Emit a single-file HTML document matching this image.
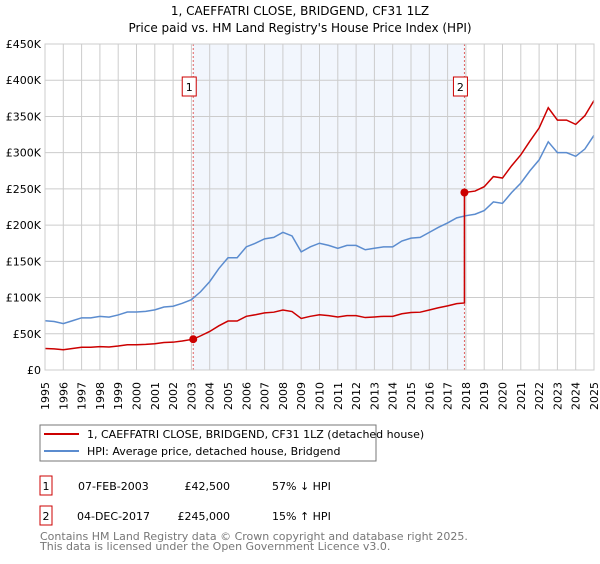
<!DOCTYPE html>
<html><head><meta charset="utf-8"><style>
body{margin:0;background:#fff;font-family:"DejaVu Sans","Liberation Sans",sans-serif;}
svg text{font-family:"DejaVu Sans","Liberation Sans",sans-serif;}
</style></head><body>
<svg id="c" width="600" height="560" xmlns="http://www.w3.org/2000/svg">
<text x="300" y="15" text-anchor="middle" font-size="12" fill="#000">1, CAEFFATRI CLOSE, BRIDGEND, CF31 1LZ</text>
<text x="300" y="32" text-anchor="middle" font-size="12" fill="#000">Price paid vs. HM Land Registry's House Price Index (HPI)</text>
<g id="plot"></g>
<rect x="40" y="425" width="336" height="36" fill="#fff" stroke="#777"/>
<line x1="44" y1="434" x2="79" y2="434" stroke="#cc0000" stroke-width="2"/>
<text x="87" y="438" font-size="11">1, CAEFFATRI CLOSE, BRIDGEND, CF31 1LZ (detached house)</text>
<line x1="44" y1="451" x2="79" y2="451" stroke="#5b8ccf" stroke-width="2"/>
<text x="87" y="455" font-size="11">HPI: Average price, detached house, Bridgend</text>
<rect x="40" y="476" width="12" height="19" fill="#fff" stroke="#cc0000"/>
<text x="46" y="490" font-size="11" text-anchor="middle">1</text>
<text x="78" y="490" font-size="11">07-FEB-2003</text>
<text x="230" y="490" font-size="11" text-anchor="end">£42,500</text>
<text x="272" y="490" font-size="11">57% ↓ HPI</text>
<rect x="40" y="506" width="12" height="19" fill="#fff" stroke="#cc0000"/>
<text x="46" y="520" font-size="11" text-anchor="middle">2</text>
<text x="77" y="520" font-size="11">04-DEC-2017</text>
<text x="230" y="520" font-size="11" text-anchor="end">£245,000</text>
<text x="272" y="520" font-size="11">15% ↑ HPI</text>
<text x="40" y="540" font-size="11" fill="#777">Contains HM Land Registry data © Crown copyright and database right 2025.</text>
<text x="40" y="550" font-size="11" fill="#777">This data is licensed under the Open Government Licence v3.0.</text>
</svg>
<script>
const years=[1995,1995.5,1996,1996.5,1997,1997.5,1998,1998.5,1999,1999.5,2000,2000.5,2001,2001.5,2002,2002.5,2003,2003.5,2004,2004.5,2005,2005.5,2006,2006.5,2007,2007.5,2008,2008.5,2009,2009.5,2010,2010.5,2011,2011.5,2012,2012.5,2013,2013.5,2014,2014.5,2015,2015.5,2016,2016.5,2017,2017.5,2018,2018.5,2019,2019.5,2020,2020.5,2021,2021.5,2022,2022.5,2023,2023.5,2024,2024.5,2025];
const hpiValues=[68,67,64,68,72,72,74,73,76,80,80,81,83,87,88,92,97,108,122,140,155,155,170,175,181,183,190,185,163,170,175,172,168,172,172,166,168,170,170,178,182,183,190,197,203,210,213,215,220,232,230,245,258,275,290,315,300,300,295,305,324];
const priceYears=[1995,1995.5,1996,1996.5,1997,1997.5,1998,1998.5,1999,1999.5,2000,2000.5,2001,2001.5,2002,2002.5,2003.1,2003.5,2004,2004.5,2005,2005.5,2006,2006.5,2007,2007.5,2008,2008.5,2009,2009.5,2010,2010.5,2011,2011.5,2012,2012.5,2013,2013.5,2014,2014.5,2015,2015.5,2016,2016.5,2017,2017.5,2017.92,2017.92,2018.5,2019,2019.5,2020,2020.5,2021,2021.5,2022,2022.5,2023,2023.5,2024,2024.5,2025];
const priceValues=[29.6,29.2,28,29.6,31.4,31.4,32.3,31.8,33.1,34.9,34.9,35.3,36.2,37.9,38.4,40.1,42.5,47.1,53.2,61,67.6,67.6,74.1,76.3,78.9,79.8,82.8,80.7,71.1,74.1,76.3,75,73.2,75,75,72.4,73.2,74.1,74.1,77.6,79.4,79.8,82.8,85.9,88.5,91.6,92.5,245,247,253,267,265,282,297,316,334,362,345,345,339,351,372];
const sales=[{n:"1",x:2003.1,v:42.5},{n:"2",x:2017.92,v:245}];
const yTicks=[0,50,100,150,200,250,300,350,400,450];
const yLabels=["£0","£50K","£100K","£150K","£200K","£250K","£300K","£350K","£400K","£450K"];
const xTicks=[1995,1996,1997,1998,1999,2000,2001,2002,2003,2004,2005,2006,2007,2008,2009,2010,2011,2012,2013,2014,2015,2016,2017,2018,2019,2020,2021,2022,2023,2024,2025];

const L=45,R=594,T=44,B=370;
const X=y=>L+(y-1995)/30*(R-L);
const Y=v=>B-v/450*(B-T);
const g=document.getElementById('plot');const NS='http://www.w3.org/2000/svg';
function mk(t,a,p){const e=document.createElementNS(NS,t);for(const k in a)e.setAttribute(k,a[k]);(p||g).appendChild(e);return e;}
const sh=mk('rect',{x:X(sales[0].x),y:T,width:X(sales[1].x)-X(sales[0].x),height:B-T,fill:'#f2f6fd'});


yTicks.forEach((v,i)=>{
 const l=mk('line',{x1:L,x2:R,y1:Y(v),y2:Y(v),stroke:'#ccc'});
 
 
 const t=mk('text',{x:L-4,y:Y(v)+4,'text-anchor':'end','font-size':'11'});t.textContent=yLabels[i];
 
 
});
xTicks.forEach(yr=>{
 const l=mk('line',{x1:X(yr),x2:X(yr),y1:T,y2:B,stroke:'#ccc'});
 
 
 const tx=X(yr)+4, ty=B+12;
 const t=mk('text',{x:tx,y:ty,'text-anchor':'end','font-size':'11',transform:'rotate(-90 '+tx+' '+ty+')'});t.textContent=yr;
 
 
});
mk('line',{x1:R,x2:R,y1:T,y2:B,stroke:'#999'});
sales.forEach(s=>{
 const l=mk('line',{x1:X(s.x),x2:X(s.x),y1:T,y2:B,stroke:'#e06060','stroke-dasharray':'2,2'});
 
 
});
const hp=mk('polyline',{points:years.map((y,i)=>X(y)+','+Y(hpiValues[i])).join(' '),fill:'none',stroke:'#5b8ccf','stroke-width':1.5});


const pp=mk('polyline',{points:priceYears.map((y,i)=>X(y)+','+Y(priceValues[i])).join(' '),fill:'none',stroke:'#cc0000','stroke-width':1.5});


sales.forEach(s=>{
 const c=mk('circle',{cx:X(s.x),cy:Y(s.v),r:4,fill:'#cc0000'});
 
 
 const b=mk('rect',{x:X(s.x)-11,y:77,width:14,height:19,fill:'#fff',stroke:'#cc0000'});
 
 
 const t=mk('text',{x:X(s.x)-4,y:91,'text-anchor':'middle','font-size':'11'});t.textContent=s.n;
 
 
});
const fr=mk('rect',{x:L,y:T,width:R-L,height:B-T,fill:'none',stroke:'#ccc'});


</script>
</body></html>
